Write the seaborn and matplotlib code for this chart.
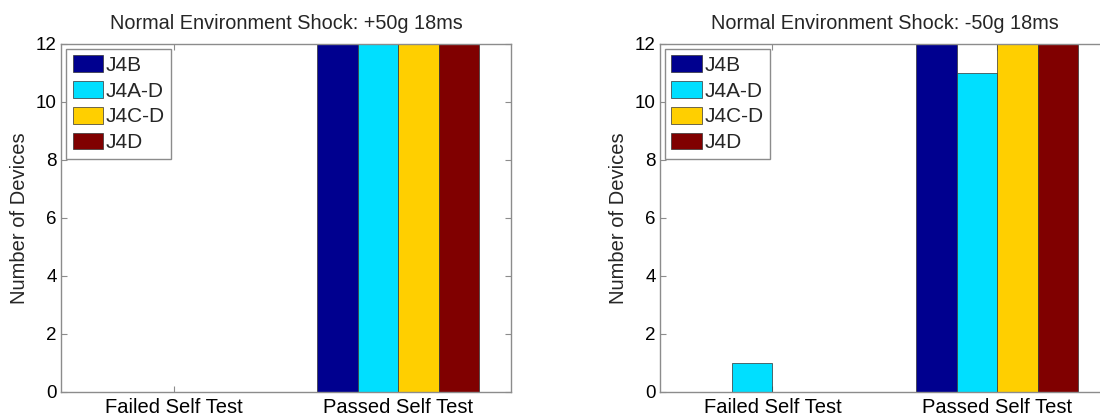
import matplotlib
matplotlib.use("Agg")
import matplotlib.pyplot as plt
import pandas as pd
import seaborn as sns

# Device counts per self-test outcome for each shock direction
outcomes = ["Failed Self Test", "Passed Self Test"]
devices = ["J4B", "J4A-D", "J4C-D", "J4D"]
pos_shock_counts = {"J4B": [0, 12], "J4A-D": [0, 12], "J4C-D": [0, 12], "J4D": [0, 12]}
neg_shock_counts = {"J4B": [0, 12], "J4A-D": [1, 11], "J4C-D": [0, 12], "J4D": [0, 12]}
titles = ["Normal Environment Shock: +50g 18ms", "Normal Environment Shock: -50g 18ms"]
yticks = [0, 2, 4, 6, 8, 10, 12]

colors = ["#00008F", "#00DFFF", "#FFCF00", "#800000"]


def to_long(counts):
    rows = []
    for dev in devices:
        for outcome, n in zip(outcomes, counts[dev]):
            rows.append({"outcome": outcome, "device": dev, "count": n})
    return pd.DataFrame(rows)


sns.set_style("ticks")
plt.rcParams["font.family"] = ["Liberation Sans", "DejaVu Sans"]
plt.rcParams.update({
    "xtick.direction": "in",
    "ytick.direction": "in",
    "xtick.top": True,
    "ytick.right": True,
    "axes.edgecolor": "#8c8c8c",
    "xtick.color": "#8c8c8c",
    "ytick.color": "#8c8c8c",
    "xtick.labelcolor": "black",
    "ytick.labelcolor": "black",
    "axes.linewidth": 1.0,
})

fig = plt.figure(figsize=(11, 4.2), dpi=100)
ax_left = fig.add_axes([0.0555, 0.0667, 0.409, 0.8286])
ax_right = fig.add_axes([0.6, 0.0667, 0.409, 0.8286])

for ax, counts, title in zip([ax_left, ax_right], [pos_shock_counts, neg_shock_counts], titles):
    df = to_long(counts)
    sns.barplot(data=df, x="outcome", y="count", hue="device", order=outcomes,
                hue_order=devices, palette=colors, width=0.72, saturation=1,
                edgecolor="#333333", linewidth=0.5, ax=ax)
    ax.set_xlim(-0.5, 1.5)
    ax.set_ylim(0, 12)
    ax.set_yticks(yticks)
    ax.tick_params(axis="x", labelsize=14.5, length=4, width=0.8, pad=4)
    ax.tick_params(axis="y", labelsize=13.5, length=4, width=0.8, pad=3)
    ax.set_xlabel("")
    ax.set_ylabel("Number of Devices", fontsize=14.5, labelpad=5)
    ax.set_title(title, fontsize=14.3, pad=11)
    for s in ax.spines.values():
        s.set_visible(True)
    handles, labels = ax.get_legend_handles_labels()
    ax.legend(handles, labels, loc="upper left", fontsize=15, frameon=True,
              fancybox=False, edgecolor="#8c8c8c", framealpha=1,
              handlelength=1.45, handleheight=0.85, handletextpad=0.15,
              labelspacing=0.3, borderpad=0.3, borderaxespad=0.25)
    ax.get_legend().get_frame().set_linewidth(1.0)

fig.savefig("out.png", dpi=100)
